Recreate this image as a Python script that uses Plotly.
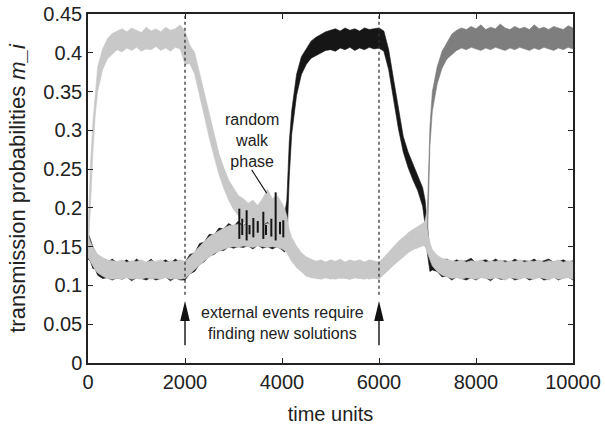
import plotly.graph_objects as go

# ---------------- data ----------------
time_units = ([0, 50, 100, 150, 200] + list(range(300, 4001, 100)) + [4050, 4100, 4150]
              + list(range(4200, 6901, 100)) + [6950, 7000, 7050] + list(range(7100, 10001, 100)))

# module A (light gray): noise envelope, lower / upper
a_low = ([0.14, 0.2, 0.27, 0.32, 0.35]
         + [0.378, 0.392, 0.398, 0.404, 0.401, 0.406, 0.403, 0.407, 0.402, 0.405, 0.404, 0.408, 0.403, 0.406, 0.402, 0.407, 0.405,
            0.385, 0.386, 0.372, 0.345, 0.318, 0.29, 0.265, 0.243, 0.225, 0.21, 0.198, 0.19, 0.182, 0.178, 0.176, 0.172, 0.178, 0.182, 0.176, 0.174, 0.17]
         + [0.165, 0.158, 0.148]
         + [0.14, 0.13, 0.121, 0.116, 0.112, 0.111, 0.109, 0.11, 0.108, 0.111, 0.109, 0.11, 0.108, 0.11, 0.109, 0.111, 0.108, 0.11,
            0.108, 0.114, 0.121, 0.127, 0.133, 0.139, 0.143, 0.147, 0.15, 0.152]
         + [0.15, 0.142, 0.133]
         + [0.125, 0.118, 0.113, 0.111, 0.109, 0.11, 0.108, 0.11, 0.109, 0.108, 0.11, 0.109, 0.108, 0.11, 0.109, 0.107, 0.11, 0.109,
            0.108, 0.11, 0.109, 0.108, 0.11, 0.109, 0.107, 0.11, 0.108, 0.109, 0.11, 0.108])
a_high = ([0.168, 0.255, 0.31, 0.352, 0.382]
          + [0.405, 0.418, 0.425, 0.428, 0.431, 0.427, 0.432, 0.429, 0.426, 0.433, 0.428, 0.431, 0.427, 0.433, 0.429, 0.431, 0.436,
             0.428, 0.41, 0.4, 0.374, 0.348, 0.318, 0.292, 0.27, 0.252, 0.236, 0.226, 0.216, 0.212, 0.206, 0.21, 0.203, 0.212, 0.224, 0.212, 0.216, 0.206]
          + [0.2, 0.19, 0.172]
          + [0.162, 0.151, 0.142, 0.137, 0.134, 0.131, 0.133, 0.13, 0.132, 0.131, 0.134, 0.13, 0.132, 0.131, 0.133, 0.13, 0.132, 0.131,
             0.13, 0.136, 0.143, 0.15, 0.157, 0.162, 0.168, 0.172, 0.176, 0.18]
          + [0.182, 0.17, 0.155]
          + [0.146, 0.139, 0.135, 0.133, 0.132, 0.131, 0.133, 0.13, 0.132, 0.131, 0.133, 0.13, 0.132, 0.131, 0.133, 0.13, 0.132, 0.131,
             0.133, 0.13, 0.132, 0.131, 0.133, 0.13, 0.132, 0.131, 0.133, 0.13, 0.132, 0.131])

# module B (black)
b_low = ([0.134, 0.131, 0.122, 0.121, 0.113]
         + [0.109, 0.11, 0.107, 0.11, 0.108, 0.111, 0.106, 0.11, 0.109, 0.107, 0.11, 0.107, 0.109, 0.111, 0.106, 0.11, 0.107,
            0.107, 0.115, 0.118, 0.127, 0.131, 0.138, 0.14, 0.145, 0.145, 0.15, 0.148, 0.15, 0.149, 0.151, 0.147, 0.152, 0.148, 0.15, 0.147, 0.15, 0.146]
         + [0.143, 0.152, 0.24]
         + [0.295, 0.345, 0.372, 0.385, 0.393, 0.397, 0.4, 0.403, 0.404, 0.402, 0.406, 0.404, 0.407, 0.403, 0.406, 0.404, 0.407, 0.405,
            0.406, 0.402, 0.378, 0.34, 0.302, 0.272, 0.252, 0.236, 0.222, 0.202]
         + [0.178, 0.14, 0.118]
         + [0.12, 0.118, 0.111, 0.112, 0.107, 0.111, 0.109, 0.107, 0.11, 0.107, 0.111, 0.11, 0.106, 0.111, 0.108, 0.108, 0.111, 0.107,
            0.109, 0.111, 0.107, 0.109, 0.111, 0.107, 0.108, 0.111, 0.107, 0.11, 0.111, 0.107])
b_high = ([0.168, 0.158, 0.15, 0.143, 0.138]
          + [0.133, 0.13, 0.134, 0.129, 0.13, 0.133, 0.128, 0.134, 0.13, 0.129, 0.134, 0.128, 0.13, 0.133, 0.129, 0.134, 0.13,
             0.13, 0.14, 0.142, 0.154, 0.156, 0.166, 0.165, 0.174, 0.173, 0.18, 0.176, 0.183, 0.176, 0.184, 0.177, 0.183, 0.176, 0.184, 0.177, 0.182, 0.175]
          + [0.19, 0.21, 0.285]
          + [0.325, 0.372, 0.395, 0.405, 0.415, 0.42, 0.424, 0.427, 0.429, 0.431, 0.428, 0.432, 0.429, 0.431, 0.428, 0.432, 0.43, 0.431,
             0.432, 0.428, 0.404, 0.366, 0.326, 0.292, 0.272, 0.256, 0.242, 0.226]
          + [0.21, 0.178, 0.142]
          + [0.14, 0.136, 0.133, 0.134, 0.13, 0.133, 0.131, 0.132, 0.135, 0.129, 0.132, 0.133, 0.13, 0.134, 0.131, 0.132, 0.13, 0.134,
             0.131, 0.132, 0.131, 0.134, 0.13, 0.132, 0.134, 0.13, 0.131, 0.133, 0.13, 0.132])

# random-walk spikes of module B (time, top value)
spike_times = [3120, 3180, 3271, 3330, 3409, 3500, 3615, 3670, 3780, 3869, 3959, 4027]
spike_tops = [0.199, 0.186, 0.197, 0.178, 0.187, 0.183, 0.195, 0.178, 0.186, 0.22, 0.182, 0.184]
spike_bases = [0.16, 0.165, 0.158, 0.166, 0.162, 0.168, 0.16, 0.165, 0.163, 0.158, 0.166, 0.162]

# module C (low phases light, active phase mid gray)
c_low = ([0.136, 0.13, 0.125, 0.12, 0.116]
         + [0.112, 0.109, 0.108, 0.109, 0.108, 0.11, 0.108, 0.109, 0.108, 0.11, 0.108, 0.109, 0.108, 0.11, 0.108, 0.109, 0.108,
            0.109, 0.114, 0.12, 0.126, 0.132, 0.137, 0.141, 0.144, 0.147, 0.149, 0.15, 0.149, 0.151, 0.15, 0.149, 0.151, 0.15, 0.149, 0.15, 0.149, 0.147]
         + [0.145, 0.142, 0.137]
         + [0.131, 0.123, 0.117, 0.112, 0.11, 0.109, 0.108, 0.11, 0.109, 0.108, 0.11, 0.109, 0.108, 0.11, 0.109, 0.108, 0.11, 0.109,
            0.109, 0.114, 0.12, 0.126, 0.132, 0.137, 0.142, 0.146, 0.149, 0.151]
         + [0.152, 0.16, 0.28]
         + [0.325, 0.36, 0.38, 0.392, 0.398, 0.403, 0.406, 0.404, 0.407, 0.405, 0.403, 0.406, 0.404, 0.407, 0.405, 0.403, 0.406, 0.404,
            0.407, 0.405, 0.403, 0.406, 0.404, 0.407, 0.405, 0.403, 0.406, 0.404, 0.407, 0.405])
c_high = ([0.165, 0.156, 0.15, 0.145, 0.14]
          + [0.136, 0.133, 0.132, 0.131, 0.133, 0.13, 0.132, 0.131, 0.133, 0.13, 0.132, 0.131, 0.133, 0.13, 0.132, 0.131, 0.133,
             0.131, 0.137, 0.144, 0.151, 0.157, 0.163, 0.167, 0.171, 0.174, 0.177, 0.178, 0.179, 0.177, 0.18, 0.178, 0.179, 0.177, 0.18, 0.178, 0.179, 0.176]
          + [0.173, 0.168, 0.162]
          + [0.156, 0.146, 0.139, 0.135, 0.133, 0.131, 0.132, 0.13, 0.133, 0.131, 0.132, 0.13, 0.133, 0.131, 0.132, 0.13, 0.133, 0.131,
             0.13, 0.135, 0.142, 0.149, 0.155, 0.16, 0.166, 0.17, 0.174, 0.178]
          + [0.184, 0.2, 0.305]
          + [0.35, 0.382, 0.402, 0.414, 0.424, 0.429, 0.432, 0.43, 0.434, 0.431, 0.436, 0.43, 0.433, 0.431, 0.437, 0.432, 0.43, 0.434,
             0.431, 0.433, 0.43, 0.436, 0.431, 0.433, 0.43, 0.434, 0.432, 0.43, 0.435, 0.432])

event_times = [2000, 6000]
c_switch_time = 7000

x_ticks = [0, 2000, 4000, 6000, 8000, 10000]
x_tick_text = ["0", "2000", "4000", "6000", "8000", "10000"]
y_ticks = [0, 0.05, 0.1, 0.15, 0.2, 0.25, 0.3, 0.35, 0.4, 0.45]
y_tick_text = ["0", "0.05", "0.1", "0.15", "0.2", "0.25", "0.3", "0.35", "0.4", "0.45"]

LIGHT = "#c8c8c8"
BLACK = "#161616"
MID = "#7e7e7e"
FONT = "Liberation Sans"
TXT = "#222222"

for arr in (a_low, a_high, b_low, b_high, c_low, c_high):
    assert len(arr) == len(time_units)


def band(t, lo, hi, color):
    return go.Scatter(x=list(t) + list(t)[::-1], y=list(hi) + list(lo)[::-1],
                      fill="toself", fillcolor=color, mode="lines",
                      line=dict(color=color, width=0.6), hoverinfo="skip", showlegend=False)


fig = go.Figure()
# black module at the bottom
fig.add_trace(band(time_units, b_low, b_high, BLACK))
# module C: light while idle, mid gray when active
idx_idle = [i for i, t in enumerate(time_units) if t <= c_switch_time]
idx_act = [i for i, t in enumerate(time_units) if t >= c_switch_time]
fig.add_trace(band([time_units[i] for i in idx_idle], [c_low[i] for i in idx_idle],
                   [c_high[i] for i in idx_idle], LIGHT))
fig.add_trace(band([time_units[i] for i in idx_act], [c_low[i] for i in idx_act],
                   [c_high[i] for i in idx_act], MID))
# module A
fig.add_trace(band(time_units, a_low, a_high, LIGHT))
# black random-walk spikes drawn over the light band
sx, sy = [], []
for t, base, top in zip(spike_times, spike_bases, spike_tops):
    sx += [t, t, None]
    sy += [base, top, None]
fig.add_trace(go.Scatter(x=sx, y=sy, mode="lines", line=dict(color=BLACK, width=2.0),
                         hoverinfo="skip", showlegend=False))

shapes = []
for t in event_times:
    shapes.append(dict(type="line", xref="x", yref="y", x0=t, x1=t, y0=0.088, y1=0.45,
                       line=dict(color="#333333", width=1.3, dash="3px,3px")))
    shapes.append(dict(type="line", xref="x", yref="y", x0=t, x1=t, y0=0.023, y1=0.062,
                       line=dict(color="#111111", width=1.4)))
    shapes.append(dict(type="path", xref="x", yref="y", xsizemode="pixel", ysizemode="pixel",
                       xanchor=t, yanchor=0.08, path="M0,0 L-4.8,-20 L4.8,-20 Z",
                       fillcolor="#111111", line=dict(width=0)))
# pointer from "random walk phase" text
shapes.append(dict(type="line", xref="x", yref="y", x0=3375, x1=3684, y0=0.249, y1=0.219,
                   line=dict(color="#111111", width=1.1)))

annotations = [
    dict(x=3380, y=0.287, xref="x", yref="y", text="random<br>walk<br>phase", showarrow=False,
         font=dict(family=FONT, size=16, color=TXT), align="center"),
    dict(x=4000, y=0.052, xref="x", yref="y", text="external events require<br>finding new solutions",
         showarrow=False, font=dict(family=FONT, size=16, color=TXT), align="center"),
]

fig.update_layout(
    width=605, height=425,
    margin=dict(l=88, r=32, t=14, b=62),
    plot_bgcolor="white", paper_bgcolor="white",
    font=dict(family=FONT, color=TXT),
    shapes=shapes, annotations=annotations,
    xaxis=dict(range=[0, 10000], tickvals=x_ticks, ticktext=x_tick_text, ticks="inside", ticklen=5,
               tickwidth=1.2, tickcolor=TXT, mirror="allticks", showline=True, linecolor=TXT, linewidth=1.5,
               showgrid=False, zeroline=False, automargin=False,
               tickfont=dict(size=20, family=FONT, color=TXT),
               title=dict(text="time units", font=dict(size=20, family=FONT, color=TXT), standoff=18)),
    yaxis=dict(range=[0, 0.45], tickvals=y_ticks, ticktext=y_tick_text, ticks="inside", ticklen=5,
               tickwidth=1.2, tickcolor=TXT, mirror="allticks", showline=True, linecolor=TXT,
               linewidth=1.5, showgrid=False, zeroline=False, automargin=False,
               tickfont=dict(size=20, family=FONT, color=TXT),
               title=dict(text="transmission probabilities <i>m_i</i>",
                          font=dict(size=22, family=FONT, color=TXT), standoff=12)),
)

fig.write_html("out.html", config={"displayModeBar": False},
               post_script="document.body.style.margin='0px';")
